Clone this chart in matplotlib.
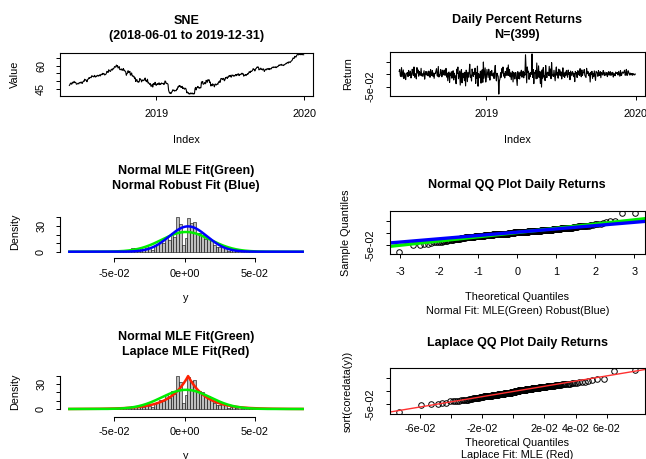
import numpy as np
import pandas as pd
import matplotlib
matplotlib.use("Agg")
import matplotlib.pyplot as plt
import matplotlib.dates as mdates
from statistics import NormalDist

plt.rcParams['font.family'] = ['Liberation Sans', 'DejaVu Sans']

ticker = "SNE"
start_date = "2018-06-01"
end_date = "2019-12-31"
start_price = 47.2

# daily percent returns (in %)
daily_pct = [
    1.19, 1.92, -0.61, -0.87, 2.73, -1.01, 0.46, 1.77,
    -1.72, 0.52, -0.51, -2.16, 0.41, 0.25,
    0.74, -0.94, 1.57, 0.32, -0.51, 1.27, -1.49, -0.49, 2.03,
    1.01, -0.43, 2.98, -1.18, 0.28, -0.47, -1.86, 2.72,
    0.55, 1.78, -0.77, 1.13, 0.18, -0.38, 2.42, -0.63, 0.21,
    -0.88, 0.38, 1.47, -1.97, 0.07, 1.11, -0.27, 1.09,
    -0.33, -0.66, 1.31, 0.21, -1.22, 1.93, 0.11, -0.46, 1.57,
    -0.79, 0.49, -1.64, 0.38, 0.31,
    1.31, 2.31, -0.53, -0.79, 3.17, -1.11, -0.35, -0.49, 1.93,
    0.63, -1.02, 1.67, -0.27, 0.94,
    1.72, -0.41, -0.31, 2.39, -1.13, 0.49,
    -2.62, 0.61, 0.94, -3.29, 0.32, -0.51,
    1.02, -1.59, 0.59, 1.44, -2.31, 0.43, -1.31, -0.67,
    -3.82, 2.06, 0.38, 2.95, -1.81, -0.24, 1.33, -4.38, 0.73,
    1.91, -3.46, 0.41, -1.35, 0.49,
    -2.59, 0.88, -4.72, 1.67, 0.83, -2.98, 0.63, -1.14, 0.92,
    4.09, -1.22, -0.37, -2.73, 2.14, 0.32, -0.85, 0.87,
    0.06, 2.48, -3.68, 0.61, -1.64, 3.32, -4.83, 0.27, -0.89,
    -1.45, 1.27, -3.59, 0.46, 1.81, -3.25,
    4.99, -1.58, 0.66, 2.59, -3.15, -0.94, 1.95, 0.38,
    -1.31, 2.06, 0.29, -2.37, 1.16, -0.38, 1.58, -0.71, -0.22,
    0.52, -1.72, 1.31, 3.59, -0.88, -2.67, 0.41, -0.37, -0.94,
    -8.03,
    -2.71, -1.78, 0.63, -1.22, 2.28, 0.52, 2.95, -0.74, 0.38, -1.49, 1.16, -0.55, 0.02,
    2.62, -0.39, 3.79, -0.49, 1.97,
    -1.02, 0.57, -2.19, 0.38, 1.22, -3.09, 0.79, 0.24,
    -1.92, 0.74, 0.61, -2.03, -4.53, 1.08, -1.69, 0.45, -1.91,
    0.88, -0.52, 1.64, -1.19, -0.41, 1.27, -1.44, 0.66, -0.35,
    7.93,
    1.89, -3.47, 2.98, 0.81,
    1.22, -2.06, 0.43, -0.99, 0.77, 0.03,
    8.27,
    -1.31, 1.92, -3.79, 0.63, 0.48, 1.58, -1.86,
    4.58, -1.61, -0.88, 3.43, -1.22, 1.15,
    -3.74, 0.91, -5.19, 1.78, -1.56,
    2.71, -0.99, -0.53, -2.56, 3.59, 0.27, -1.33, 0.85, 0.59,
    -0.43, 3.21, -0.66, 2.14, -1.78, 4.72, 0.21, -0.56,
    -0.88, 1.64, -0.49, -2.62, 1.31, 2.98, -0.41, 0.79, -1.58, 2.09, -0.34, 1.76,
    -0.61, 0.99, -1.89, -0.23, 2.62, -0.79, 0.46, -1.27, 0.91, -0.38, 1.59,
    -0.18, -1.19, 1.72, -0.13, 0.71, -2.19, 1.31, 0.41, -0.57, 1.08, 0.73,
    -0.94, 0.32, -2.98, 1.19, 0.21, 0.66, -1.31, 1.44, -0.14,
    1.31, -0.52, 2.31, 0.29, -1.02, 1.78, -0.49, 0.54,
    0.74, 1.92, -0.41, -0.87, -1.31, 2.42, 0.21, 1.22, 0.78,
    -0.61, 0.43, -3.13, 0.79, 0.03, 1.21, -1.61, 0.35, -0.85, 1.39, -0.45, -2.51, 1.21, 0.85,
    0.53, -0.82, 1.49, -0.39, -0.48, 1.08, -1.39, 0.77, 0.41, -0.27, 1.52,
    0.31, -0.53, 0.87, -0.37, -0.22, 0.69, -0.95, 0.38, 1.05, -0.35, 0.74, 1.08,
    -0.45, 0.61, -0.17, 0.79, -1.13, 0.25, 0.12, -0.59, 0.92, 0.35, 0.35,
    0.74, -0.31, 1.18, 0.19, -0.79, 1.47, -0.48, -0.38, 0.95, 0.64, 0.44,
    1.08, 1.65, -0.41, 0.03, 1.99, -0.48, -0.22, 1.44, 0.87,
    0.17, -0.35, 0.46, -0.14, 0.25, -0.43, 0.33, -0.19, 0.09, -0.27, 0.08,
]

y = np.array(daily_pct) / 100.0
price = start_price * np.concatenate([[1.0], np.cumprod(1 + y)])
dates = pd.date_range(start_date, end_date, periods=len(price))
n = len(y)

# fits
mu = y.mean()
sd_mle = np.sqrt(np.mean((y - mu) ** 2))
med = np.median(y)
mad = 1.4826 * np.median(np.abs(y - med))
lap_b = np.mean(np.abs(y - med))

def dnorm(x, m, s):
    return np.exp(-0.5 * ((x - m) / s) ** 2) / (s * np.sqrt(2 * np.pi))

def dlaplace(x, m, b):
    return np.exp(-np.abs(x - m) / b) / (2 * b)

W, H = 646, 459
fig = plt.figure(figsize=(W / 100, H / 100), dpi=100)
FS = 7.8
TFS = 9

def rect(x0, y0, x1, y1):
    return [x0 / W, 1 - y1 / H, (x1 - x0) / W, (y1 - y0) / H]

def txt(x, yy, s, **kw):
    fig.text(x / W, 1 - yy / H, s, ha='center', va='center', fontsize=kw.pop('fontsize', FS), **kw)

def style(ax, xpad=6.5, ypad=7.0):
    ax.tick_params(direction='out', length=3, width=0.7, labelsize=FS)
    ax.tick_params(axis='x', pad=xpad)
    ax.tick_params(axis='y', pad=ypad, labelrotation=90)
    for lab in ax.get_yticklabels():
        lab.set_va('center')
    for s in ax.spines.values():
        s.set_linewidth(0.8)

def pad4(lo, hi):
    d = hi - lo
    return lo - 0.04 * d, hi + 0.04 * d

t0, t1 = mdates.date2num(dates[0]), mdates.date2num(dates[-1])
year_ticks = [mdates.date2num(pd.Timestamp("2019-01-01")), mdates.date2num(pd.Timestamp("2020-01-01"))]

# --- price
ax1 = fig.add_axes(rect(60, 52.7, 313, 95.7))
ax1.plot(mdates.date2num(dates), price, color='black', lw=0.8)
ax1.set_xlim(*pad4(t0, t1))
ax1.set_ylim(*pad4(price.min(), price.max()))
pt = [v for v in range(45, 80, 5) if price.min() - 2 < v < price.max() + 1]
ax1.set_yticks(pt)
ax1.set_yticklabels([str(v) if v in (45, 60) else '' for v in pt])
ax1.set_xticks(year_ticks)
ax1.set_xticklabels(['2019', '2020'])
style(ax1)
txt(186.5, 21, ticker, fontsize=TFS, fontweight='bold')
txt(186.5, 36, f"({start_date} to {end_date})", fontsize=TFS, fontweight='bold')
txt(186.5, 140, "Index")
txt(15, 74, "Value", rotation=90)

# --- returns
ax2 = fig.add_axes(rect(389.7, 52.3, 644.7, 95.7))
ax2.plot(mdates.date2num(dates[1:]), y, color='black', lw=0.8)
ax2.set_xlim(*pad4(mdates.date2num(dates[1]), t1))
ax2.set_ylim(*pad4(y.min(), y.max()))
ax2.set_yticks([-0.05, 0, 0.05])
ax2.set_yticklabels(['-5e-02', '', ''])
ax2.set_xticks(year_ticks)
ax2.set_xticklabels(['2019', '2020'])
style(ax2)
txt(517.2, 20, "Daily Percent Returns", fontsize=TFS, fontweight='bold')
txt(517.2, 35, f"N=({n})", fontsize=TFS, fontweight='bold')
txt(517.2, 140, "Index")
txt(348, 74, "Return", rotation=90)

# --- histograms
bw = 0.002
lo = np.floor(y.min() / bw - 1e-9) * bw
hi = np.ceil(y.max() / bw + 1e-9) * bw
edges = np.round(np.arange(lo, hi + bw / 2, bw), 6)
xs = np.linspace(edges[0], edges[-1], 500)

def hist_axes(top, bottom, zero_px, px_per_unit, out_pt):
    ax = fig.add_axes(rect(60, top, 312, bottom))
    ax.hist(y, bins=edges, density=True, facecolor='#bebebe', edgecolor='black', linewidth=0.4)
    ax.set_xlim(*pad4(edges[0], edges[-1]))
    ax.set_ylim(-(bottom - zero_px) / px_per_unit, (zero_px - top) / px_per_unit)
    ax.spines['top'].set_visible(False)
    ax.spines['right'].set_visible(False)
    ax.spines['bottom'].set_position(('outward', out_pt))
    ax.spines['bottom'].set_bounds(-0.05, 0.05)
    ax.spines['left'].set_bounds(0, 40)
    ax.set_xticks([-0.05, 0, 0.05])
    ax.set_xticklabels(['-5e-02', '0e+00', '5e-02'])
    ax.set_yticks([0, 10, 20, 30, 40])
    ax.set_yticklabels(['0', '', '', '30', ''])
    style(ax, xpad=4.5)
    return ax

ax3 = hist_axes(210, 253.3, 251.7, 25.7 / 30, 3.6)
ax3.plot(xs, dnorm(xs, mu, sd_mle), color='#00ee00', lw=1.8)
ax3.plot(xs, dnorm(xs, med, mad), color='#0000ff', lw=1.8)
txt(186, 170.7, "Normal MLE Fit(Green)", fontsize=TFS, fontweight='bold')
txt(186, 185.7, "Normal Robust Fit (Blue)", fontsize=TFS, fontweight='bold')
txt(186, 298.3, "y")
txt(15, 232, "Density", rotation=90)

ax5 = hist_axes(368, 411, 409, 25 / 30, 4.1)
ax5.plot(xs, dlaplace(xs, med, lap_b), color='#ff2000', lw=1.8)
ax5.plot(xs, dnorm(xs, mu, sd_mle), color='#00ee00', lw=1.8)
txt(186, 336.7, "Normal MLE Fit(Green)", fontsize=TFS, fontweight='bold')
txt(186, 351.7, "Laplace MLE Fit(Red)", fontsize=TFS, fontweight='bold')
txt(186, 456, "y")
txt(15, 392, "Density", rotation=90)

# --- normal QQ
pp = (np.arange(1, n + 1) - 0.5) / n
ys = np.sort(y)
qn = np.array([NormalDist().inv_cdf(p) for p in pp])
ax4 = fig.add_axes(rect(389.7, 211, 644.7, 254))
ax4.plot(qn, ys, 'o', mfc='none', mec='black', ms=4, mew=0.7)
ax4.set_xlim(*pad4(qn.min(), qn.max()))
ax4.set_ylim(*pad4(ys.min(), ys.max()))
ax4.axline((0, mu), slope=sd_mle, color='#00ee00', lw=2.4)
ax4.axline((0, med), slope=mad, color='#0000ff', lw=2.4)
ax4.set_xticks(range(-3, 4))
ax4.set_xticklabels([str(v) for v in range(-3, 4)])
ax4.set_yticks([-0.05, 0, 0.05])
ax4.set_yticklabels(['-5e-02', '', ''])
style(ax4)
txt(517.2, 185, "Normal QQ Plot Daily Returns", fontsize=TFS, fontweight='bold')
txt(517.2, 296.7, "Theoretical Quantiles")
txt(517.2, 310.7, "Normal Fit: MLE(Green) Robust(Blue)")
txt(346, 232.5, "Sample Quantiles", rotation=90)

# --- Laplace QQ
ql = np.where(pp < 0.5, med + lap_b * np.log(2 * pp), med - lap_b * np.log(2 - 2 * pp))
ax6 = fig.add_axes(rect(389.7, 368.3, 644.7, 414))
ax6.plot(ql, ys, 'o', mfc='none', mec='black', ms=4, mew=0.7)
ax6.set_xlim(*pad4(ql.min(), ql.max()))
ax6.set_ylim(*pad4(ys.min(), ys.max()))
ax6.axline((0, 0), slope=1, color='#ff3030', lw=1.0)
lt = [-0.06, -0.04, -0.02, 0, 0.02, 0.04, 0.06]
ax6.set_xticks(lt)
ax6.set_xticklabels(['-6e-02', '', '-2e-02', '', '2e-02', '4e-02', '6e-02'])
ax6.set_yticks([-0.05, 0, 0.05])
ax6.set_yticklabels(['-5e-02', '', ''])
style(ax6, xpad=4.5)
txt(517.2, 343.3, "Laplace QQ Plot Daily Returns", fontsize=TFS, fontweight='bold')
txt(517.2, 442.7, "Theoretical Quantiles")
txt(517.2, 455.5, "Laplace Fit: MLE (Red)")
txt(348, 391, "sort(coredata(y))", rotation=90)

fig.savefig("out.png", dpi=100)
